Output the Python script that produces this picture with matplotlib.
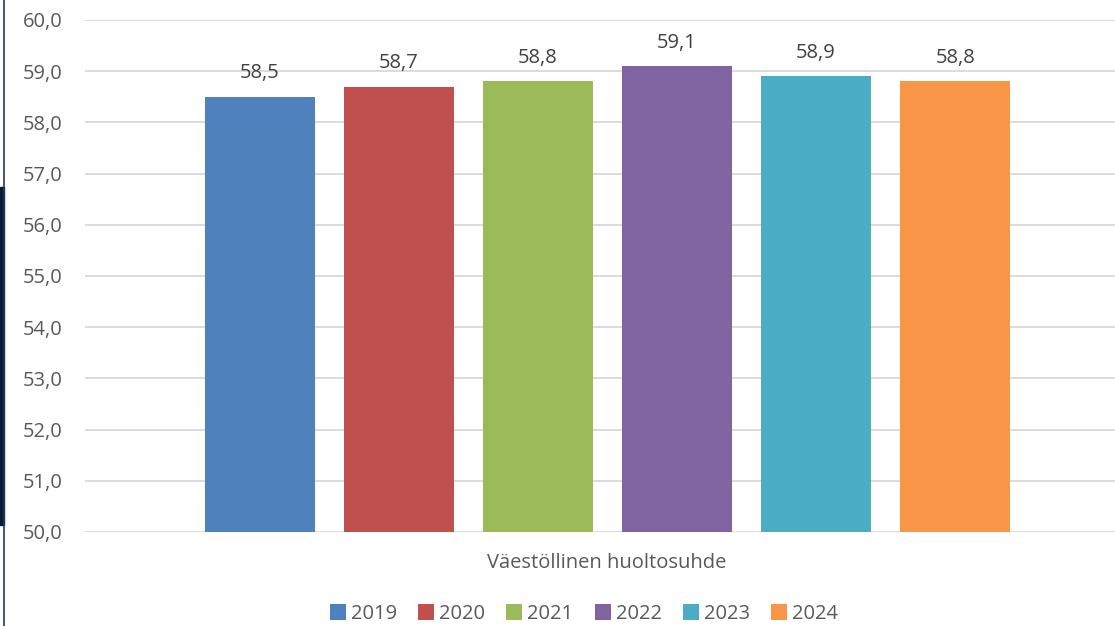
import matplotlib.pyplot as plt
from matplotlib.patches import Rectangle
from matplotlib.lines import Line2D

plt.rcParams['font.family'] = ['Open Sans', 'DejaVu Sans']

years = ['2019', '2020', '2021', '2022', '2023', '2024']
values = [58.5, 58.7, 58.8, 59.1, 58.9, 58.8]
colors = ['#4F81BD', '#C0504D', '#9BBB59', '#8064A2', '#4BACC6', '#F79646']
category = 'Väestöllinen huoltosuhde'
yticks = [50, 51, 52, 53, 54, 55, 56, 57, 58, 59, 60]

fig = plt.figure(figsize=(11.15, 6.26), dpi=100)
ax = fig.add_axes([85 / 1115, 1 - 532 / 626, 1 - 85 / 1115, (532 - 20) / 626])

text_col = '#595959'
fs = 14.5
for i, (yr, v, c) in enumerate(zip(years, values, colors)):
    ax.bar(i, v - 50, bottom=50, width=0.79, color=c, label=yr, zorder=3)
    ax.text(i, v + 0.26, f'{v:.1f}'.replace('.', ','), ha='center', va='bottom',
            fontsize=fs, color='#404040', zorder=4)

ax.set_ylim(50, 60)
ax.set_xlim(-1.259, 6.15)
ax.set_yticks(yticks)
ax.set_yticklabels([f'{t:.1f}'.replace('.', ',') for t in yticks])
ax.grid(axis='y', color='#D9D9D9', linewidth=1.3, zorder=0)
ax.set_xticks([])
for s in ax.spines.values():
    s.set_visible(False)
ax.tick_params(axis='y', length=0, pad=16, labelsize=fs, labelcolor=text_col)

fig.text(607 / 1115, 1 - 563 / 626, category, ha='center', va='center',
         fontsize=fs, color=text_col)

leg = fig.legend(loc='center', bbox_to_anchor=(584 / 1115, 1 - 614 / 626), ncol=6,
                 frameon=False, fontsize=fs, handlelength=0.8, handleheight=0.8,
                 handletextpad=0.25, columnspacing=1.05, labelcolor=text_col)

# left border decoration
fig.add_artist(Line2D([3.5 / 1115, 3.5 / 1115], [0, 1], color='#1F3864', linewidth=1.2))
fig.add_artist(Rectangle((0, 1 - 525 / 626), 4 / 1115, (525 - 187) / 626,
                         color='#0A1A33', transform=fig.transFigure))

fig.savefig('out.png', dpi=100)
